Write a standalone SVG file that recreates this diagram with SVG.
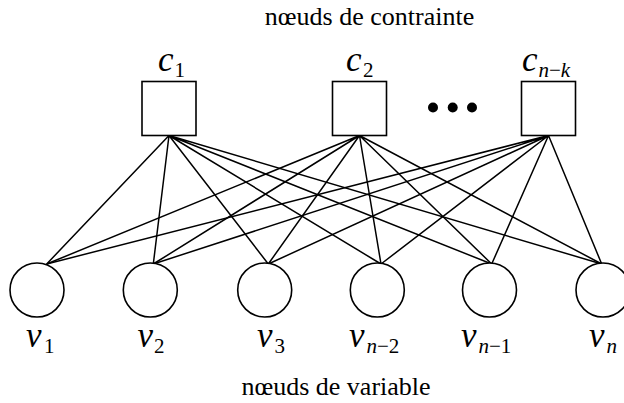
<svg xmlns="http://www.w3.org/2000/svg" width="624" height="403" viewBox="0 0 624 403">
<style>
.box{fill:#fff;stroke:#000;stroke-width:1.6}
.var{fill:#fff;stroke:#000;stroke-width:1.6}
.edge{stroke:#000;stroke-width:1.5;fill:none}
.cap{font-family:"Liberation Serif",serif;font-size:26px;fill:#000}
.m{font-family:"Liberation Serif",serif;font-style:italic;font-size:35px;fill:#000}
.s{font-family:"Liberation Serif",serif;font-size:21px;fill:#000}
.si{font-family:"Liberation Serif",serif;font-style:italic;font-size:21px;fill:#000}
</style>
<rect width="624" height="403" fill="#fff"/>
<text class="cap" x="369.5" y="25" text-anchor="middle">nœuds de contrainte</text>
<text class="cap" x="336" y="395" text-anchor="middle">nœuds de variable</text>
<g id="edges">
<path class="edge" d="M169 135.5L46.7 264M169 135.5L153.3 264M169 135.5L268.3 264M169 135.5L381 264M169 135.5L491.7 264M169 135.5L601.7 264"/>
<path class="edge" d="M359.5 135.5L46.7 264M359.5 135.5L153.3 264M359.5 135.5L268.3 264M359.5 135.5L381 264M359.5 135.5L491.7 264M359.5 135.5L601.7 264"/>
<path class="edge" d="M548.5 135.5L46.7 264M548.5 135.5L153.3 264M548.5 135.5L268.3 264M548.5 135.5L381 264M548.5 135.5L491.7 264M548.5 135.5L601.7 264"/>
</g>
<g id="c1"><rect class="box" x="142" y="81.5" width="54" height="54"/><text class="m" x="158" y="70.5">c</text><text class="s" x="174.5" y="77">1</text></g>
<g id="c2"><rect class="box" x="332.5" y="81.5" width="54" height="54"/><text class="m" x="346" y="70.5">c</text><text class="s" x="363" y="77">2</text></g>
<g id="cnk"><rect class="box" x="521.5" y="81.5" width="54" height="54"/><text class="m" x="522" y="70.5">c</text><text x="538.5" y="77"><tspan class="si">n</tspan><tspan class="s">−</tspan><tspan class="si">k</tspan></text></g>
<g id="dots" fill="#000"><circle cx="433" cy="107.5" r="5"/><circle cx="452.7" cy="107.5" r="5"/><circle cx="472" cy="107.5" r="5"/></g>
<g id="v1"><circle class="var" cx="37" cy="290" r="27"/><text class="m" x="26" y="346.5">v</text><text class="s" x="44" y="353">1</text></g>
<g id="v2"><circle class="var" cx="150.3" cy="290" r="27"/><text class="m" x="137.5" y="346.5">v</text><text class="s" x="154" y="353">2</text></g>
<g id="v3"><circle class="var" cx="264.7" cy="290" r="27"/><text class="m" x="257" y="346.5">v</text><text class="s" x="274.5" y="353">3</text></g>
<g id="vn2"><circle class="var" cx="377.3" cy="290" r="27"/><text class="m" x="349" y="346.5">v</text><text x="366.5" y="353"><tspan class="si">n</tspan><tspan class="s">−2</tspan></text></g>
<g id="vn1"><circle class="var" cx="489.5" cy="290" r="27"/><text class="m" x="461" y="346.5">v</text><text x="478.5" y="353"><tspan class="si">n</tspan><tspan class="s">−1</tspan></text></g>
<g id="vn"><circle class="var" cx="603" cy="290" r="27"/><text class="m" x="589" y="346.5">v</text><text class="si" x="606.5" y="353">n</text></g>
</svg>
